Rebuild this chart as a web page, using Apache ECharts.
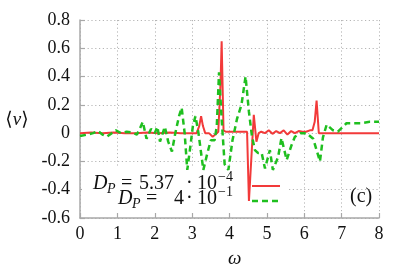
<!DOCTYPE html>
<html><head><meta charset="utf-8">
<script src="https://cdn.jsdelivr.net/npm/echarts@6/dist/echarts.min.js"></script>
<style>html,body{margin:0;padding:0;background:#fff;}#c{width:407px;height:271px;}</style>
</head><body><div id="c"></div>
<script>
var xTicks = [0,1,2,3,4,5,6,7,8];
var yTicks = [-0.6,-0.4,-0.2,0,0.2,0.4,0.6,0.8];
var redOmega = [0,0.3,0.6,0.9,1.2,1.5,1.8,2.1,2.4,2.7,3.0,3.12,3.19,3.24,3.29,3.35,3.45,3.55,3.62,3.7,3.76,3.79,3.84,3.9,4.0,4.2,4.4,4.47,4.52,4.65,4.72,4.78,4.85,4.95,5.05,5.15,5.25,5.35,5.45,5.55,5.65,5.75,5.85,5.95,6.05,6.15,6.22,6.28,6.33,6.39,6.45,7.0,8.0];
var redV = [0,0.005,0,0.005,0,0,0.005,0,0.005,0,0,0,0.05,0.12,0.05,0,0,-0.025,-0.01,0.01,0.35,0.65,0.02,0.01,0.01,0.01,0.01,0.01,-0.48,0.13,-0.06,0,0.01,0,0.02,-0.005,0.015,0,0.02,-0.01,0.015,0,0.015,0.01,0.01,0.02,0.02,0.08,0.23,0,0,0,0];
var greenOmega = [0,0.2,0.35,0.48,0.6,0.72,0.85,0.96,1.1,1.25,1.4,1.52,1.6,1.68,1.78,1.9,2.0,2.07,2.14,2.27,2.36,2.46,2.55,2.65,2.72,2.8,2.87,2.95,3.02,3.09,3.17,3.3,3.4,3.5,3.6,3.66,3.72,3.79,3.87,3.97,4.08,4.2,4.32,4.43,4.52,4.6,4.68,4.76,4.86,4.95,5.08,5.16,5.3,5.39,5.53,5.66,5.75,5.9,6.06,6.24,6.42,6.5,6.6,6.77,6.9,7.13,7.5,7.75,8.0];
var greenV = [-0.02,-0.01,0,0.015,-0.01,-0.025,0,0.02,0,0.01,0.005,-0.01,0.03,0.08,-0.04,0.03,0,0.045,-0.06,0.045,-0.06,-0.13,0,0.12,0.18,0,-0.26,-0.1,0.05,0.12,0,-0.26,-0.15,-0.05,-0.05,0.05,0.43,0.1,-0.22,-0.26,-0.05,0.1,0.2,0.4,0.15,-0.02,-0.12,-0.14,-0.14,-0.25,-0.12,-0.26,-0.17,-0.035,-0.19,-0.085,-0.026,0,0,-0.04,-0.2,-0.03,0.06,0.02,0.01,0.07,0.07,0.08,0.08];
var legendLabels = ['5.37', '4'];
var legendExps = ['\u22124', '\u22121'];

var RED = '#f23a3a', GREEN = '#1fbf1f';
var SERIF = '"Liberation Serif", "DejaVu Serif", serif';
function pairs(xs, ys){ return xs.map(function(x,i){ return [x, ys[i]]; }); }

var chart = echarts.init(document.getElementById('c'), null, {renderer:'canvas'});
var axisCol = '#a8a8a8';
function txt(x, y, s, size, italic){
  return {type:'text', z:20, x:x, y:y, style:{text:s, fontFamily:SERIF, fontSize:size, fontStyle: italic?'italic':'normal', fill:'#111', verticalAlign:'middle', align:'left'}};
}
var graphics = [
  {type:'rect', z:1, shape:{x:82, y:168, width:205, height:44}, style:{fill:'#fff'}},
  // line 1
  txt(93, 184, 'D', 20, true), txt(107, 189, 'P', 14, true), txt(121, 184, '=', 20, false),
  txt(139, 184, legendLabels[0], 20, false), txt(186, 184, '\u00b7', 20, false),
  txt(197, 184, '10', 20, false), txt(218, 177, legendExps[0], 14, false),
  // line 2
  txt(118, 199, 'D', 20, true), txt(132, 204, 'P', 14, true), txt(146, 199, '=', 20, false),
  txt(174, 199, legendLabels[1], 20, false), txt(186, 199, '\u00b7', 20, false),
  txt(197, 199, '10', 20, false), txt(218, 192, legendExps[1], 14, false),
  {type:'line', z:20, shape:{x1:252, y1:186, x2:280, y2:186}, style:{stroke:RED, lineWidth:2}},
  {type:'line', z:20, shape:{x1:252, y1:201, x2:281, y2:201}, style:{stroke:GREEN, lineWidth:2.5, lineDash:[6,4]}},
  txt(350, 197, '(c)', 20, false),
  {type:'text', z:20, x:17, y:120, style:{text:'{a|\u27e8}{b|v}{a|\u27e9}', align:'center', verticalAlign:'middle', rich:{a:{fontFamily:SERIF, fontSize:19, fill:'#111'}, b:{fontFamily:SERIF, fontSize:19, fontStyle:'italic', fill:'#111'}}}},
  txt(228, 259, '\u03c9', 19, true)
];

chart.setOption({
  animation:false,
  backgroundColor:'#fff',
  grid:{left:80, right:28, top:20, bottom:53, containLabel:false},
  xAxis:{type:'value', min:xTicks[0], max:xTicks[xTicks.length-1], interval:1,
    axisLine:{show:true, onZero:false, lineStyle:{color:axisCol, width:1.5}},
    axisTick:{show:true, inside:true, length:5, lineStyle:{color:axisCol, width:1.2}},
    axisLabel:{color:'#111', fontFamily:SERIF, fontSize:18, margin:7},
    splitLine:{show:true, lineStyle:{color:'#b5b5b5', type:[1.2,2.6], width:1}}},
  yAxis:{type:'value', min:yTicks[0], max:yTicks[yTicks.length-1], interval:0.2,
    axisLine:{show:true, onZero:false, lineStyle:{color:axisCol, width:1.5}},
    axisTick:{show:true, inside:true, length:5, lineStyle:{color:axisCol, width:1.2}},
    axisLabel:{color:'#111', fontFamily:SERIF, fontSize:18, margin:10,
      formatter:function(v){ var r = Math.round(v*10)/10; return r===0 ? '0' : r.toFixed(1); }},
    splitLine:{show:true, lineStyle:{color:'#b5b5b5', type:[1.2,2.6], width:1}}},
  series:[
    {type:'line', z:3, data:pairs(redOmega, redV), showSymbol:false, symbol:'none', lineStyle:{color:RED, width:2}, itemStyle:{color:RED}},
    {type:'line', z:4, data:pairs(greenOmega, greenV), showSymbol:false, symbol:'none', lineStyle:{color:GREEN, width:2.5, type:[6,4]}, itemStyle:{color:GREEN}}
  ],
  graphic:graphics
});
</script></body></html>
